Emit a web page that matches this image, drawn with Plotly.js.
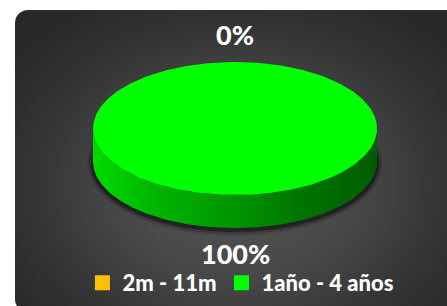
<!DOCTYPE html>
<html>
<head>
<meta charset="utf-8">
<script src="https://cdn.plot.ly/plotly-3.0.1.min.js"></script>
<style>
  html, body { margin: 0; padding: 0; background: #ffffff; width: 447px; height: 306px; overflow: hidden; }
  #panel {
    position: absolute; left: 15px; top: 10px; width: 446px; height: 302px;
    border-radius: 13px;
    background: radial-gradient(ellipse 62% 70% at 50% 58%, #565656 0%, #474747 45%, #343434 75%, #292929 100%);
  }
  #chart { position: absolute; left: 0; top: 0; width: 447px; height: 306px; }
</style>
</head>
<body>
<div id="panel"></div>
<div id="chart"></div>
<script>
// ---- data ----
const categories = ['2m - 11m', '1año - 4 años'];
const values = [0, 100];
const colors = ['#FFC000', '#00FF00'];

// ---- geometry / style ----
const W = 447, H = 306;
const geo = { cx: 235, cy: 128.5, rx: 142, ry: 66.5, depth: 33, labelOff: 26 };
const FONT = 'Lato, "Open Sans", sans-serif';

function shade(hex, f) {
  const n = parseInt(hex.slice(1), 16);
  const r = Math.round(((n >> 16) & 255) * f);
  const g = Math.round(((n >> 8) & 255) * f);
  const b = Math.round((n & 255) * f);
  return 'rgb(' + r + ',' + g + ',' + b + ')';
}
function pt(t, dy, ex) {
  ex = ex || 0;
  return [geo.cx + (geo.rx + ex) * Math.sin(t), geo.cy - (geo.ry + ex) * Math.cos(t) + dy];
}
function arc(a0, a1, dy, ex) {
  const n = Math.max(2, Math.ceil((a1 - a0) / (Math.PI / 180)));
  const xs = [], ys = [];
  for (let i = 0; i <= n; i++) {
    const p = pt(a0 + (a1 - a0) * i / n, dy, ex);
    xs.push(p[0]); ys.push(p[1]);
  }
  return [xs, ys];
}

const total = values.reduce((a, b) => a + b, 0);
const traces = [];
const annotations = [];

// soft shadow under the pie
[[6, 0.10], [4, 0.18], [2, 0.38]].forEach(([e, a]) => {
  const [xs, ys] = arc(0, 2 * Math.PI, geo.depth + 2, e);
  traces.push({ type: 'scatter', x: xs, y: ys, mode: 'lines', fill: 'toself',
    fillcolor: 'rgba(0,0,0,' + a + ')', line: { width: 0 }, hoverinfo: 'skip', showlegend: false });
});

let acc = 0;
const slices = values.map((v, i) => {
  const a0 = acc / total * 2 * Math.PI;
  acc += v;
  const a1 = acc / total * 2 * Math.PI;
  return { a0, a1, v, i };
});

// side walls (front half only)
slices.forEach(s => {
  if (s.v <= 0) return;
  const lo = Math.max(s.a0, Math.PI / 2), hi = Math.min(s.a1, 1.5 * Math.PI);
  if (hi <= lo) return;
  const [tx, ty] = arc(lo, hi, 0);
  const [bx, by] = arc(lo, hi, geo.depth);
  const c = colors[s.i];
  traces.push({ type: 'scatter', mode: 'lines', fill: 'toself',
    x: tx.concat(bx.slice().reverse()), y: ty.concat(by.slice().reverse()),
    line: { width: 0 }, hoverinfo: 'skip', showlegend: false,
    fillgradient: { type: 'horizontal',
      colorscale: [[0, shade(c, 0.86)], [0.2, shade(c, 0.72)], [0.5, shade(c, 0.58)], [0.75, shade(c, 0.45)], [1, shade(c, 0.36)]] } });
});

// top faces
slices.forEach(s => {
  if (s.v <= 0) return;
  const [xs, ys] = arc(s.a0, s.a1, 0);
  const full = (s.a1 - s.a0) >= 2 * Math.PI - 1e-9;
  traces.push({ type: 'scatter', mode: 'lines', fill: 'toself',
    x: full ? xs : [geo.cx].concat(xs), y: full ? ys : [geo.cy].concat(ys),
    fillcolor: colors[s.i], line: { width: 0 }, hoverinfo: 'skip', showlegend: false });
});

// data labels
slices.forEach(s => {
  const mid = (s.a0 + s.a1) / 2;
  const front = Math.cos(mid) < 0;
  const p = pt(mid, front ? geo.depth : 0, geo.labelOff);
  annotations.push({ x: p[0], y: p[1] + (front ? -1 : -2), xref: 'x', yref: 'y', showarrow: false,
    text: Math.round(s.v / total * 100) + '%',
    font: { family: FONT, size: 27, color: '#ffffff', weight: 900 } });
});

// legend entries
categories.forEach((c, i) => {
  traces.push({ type: 'scatter', mode: 'markers', x: [null], y: [null], name: c,
    marker: { symbol: 'square', size: 15, color: colors[i] }, showlegend: true, hoverinfo: 'skip' });
});

const layout = {
  width: W, height: H,
  margin: { l: 0, r: 0, t: 0, b: 0 },
  paper_bgcolor: 'rgba(0,0,0,0)', plot_bgcolor: 'rgba(0,0,0,0)',
  xaxis: { range: [0, W], visible: false, fixedrange: true },
  yaxis: { range: [H, 0], visible: false, fixedrange: true },
  showlegend: true,
  legend: { orientation: 'h', x: 0.539, xanchor: 'center', y: 1 - 283 / H, yanchor: 'middle',
    bgcolor: 'rgba(0,0,0,0)', font: { family: FONT, size: 22, color: '#ffffff', weight: 900 },
    itemwidth: 30, itemclick: false, itemdoubleclick: false },
  annotations: annotations
};

Plotly.newPlot('chart', traces, layout, { staticPlot: true, displayModeBar: false });
</script>
</body>
</html>
